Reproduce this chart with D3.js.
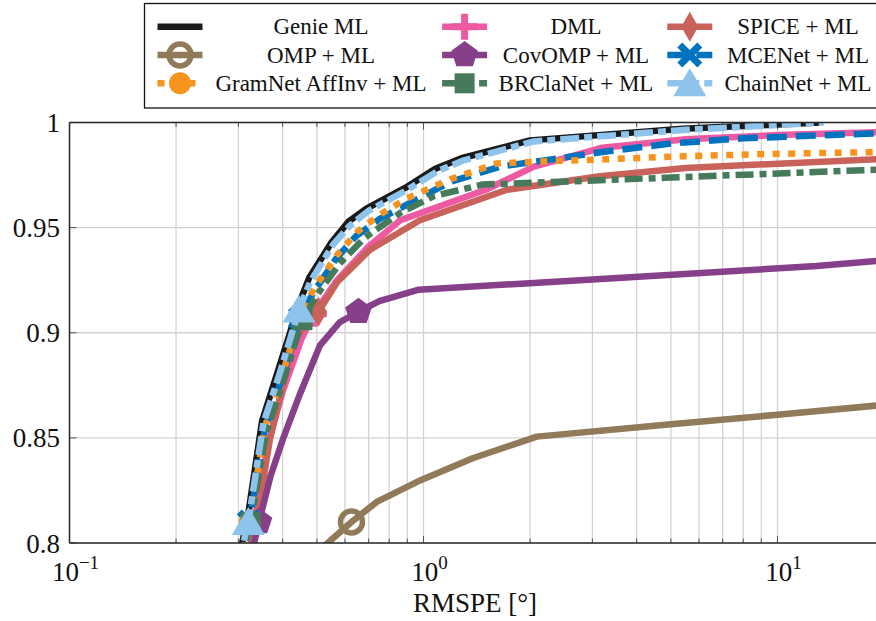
<!DOCTYPE html>
<html>
<head>
<meta charset="utf-8">
<script src="https://cdn.jsdelivr.net/npm/d3@7"></script>
<style>
  body { margin: 0; background: #fff; }
  svg { display: block; }
  svg text { font-family: "Liberation Serif", "Tinos", "Times New Roman", "DejaVu Serif", serif; fill: #111; }
</style>
</head>
<body>
<div id="chart"></div>
<script>
// legend order (row by row) = drawing order
const seriesNames = ["Genie ML", "DML", "SPICE + ML", "OMP + ML", "CovOMP + ML", "MCENet + ML",
                     "GramNet AffInv + ML", "BRClaNet + ML", "ChainNet + ML"];

// [RMSPE, value] pairs
const genieML = [[0.298,0.790],[0.318,0.811],[0.350,0.858],[0.390,0.883],[0.418,0.899],[0.443,0.913],
  [0.475,0.926],[0.550,0.943],[0.615,0.953],[0.690,0.959],[0.890,0.969],[1.080,0.978],[1.280,0.983],
  [2.000,0.9915],[5.400,0.997],[13.2,1.000]];
const dml = [[0.316,0.790],[0.334,0.810],[0.362,0.846],[0.400,0.872],[0.452,0.897],[0.490,0.909],
  [0.570,0.925],[0.700,0.941],[0.860,0.9535],[1.500,0.968],[2.050,0.979],[3.200,0.988],[5.500,0.992],
  [10,0.994],[20,0.9955]];
const spiceML = [[0.324,0.790],[0.331,0.801],[0.338,0.811],[0.368,0.849],[0.430,0.897],[0.505,0.910],
  [0.570,0.924],[0.706,0.9395],[0.977,0.9535],[1.720,0.968],[3.150,0.9744],[5.500,0.9784],[20,0.9827]];
const ompML = [[0.520,0.798],[0.626,0.810],[0.740,0.8197],[0.985,0.830],[1.377,0.8403],[2.090,0.8506],
  [5.0,0.8565],[10,0.861],[20,0.8657]];
const covOmpML = [[0.322,0.790],[0.343,0.810],[0.370,0.832],[0.400,0.849],[0.448,0.871],[0.510,0.894],
  [0.580,0.905],[0.655,0.910],[0.750,0.915],[0.970,0.9205],[2.050,0.9237],[12.9,0.9317],[20,0.9345]];
const mceNetML = [[0.302,0.790],[0.322,0.810],[0.356,0.854],[0.397,0.878],[0.425,0.894],[0.449,0.907],
  [0.488,0.919],[0.565,0.935],[0.645,0.946],[0.750,0.954],[0.900,0.961],[1.200,0.972],[1.650,0.979],
  [2.200,0.982],[3.200,0.986],[5.000,0.990],[8.000,0.9925],[20,0.995]];
const gramNetML = [[0.303,0.790],[0.323,0.810],[0.356,0.855],[0.397,0.879],[0.425,0.895],[0.450,0.908],
  [0.490,0.921],[0.570,0.937],[0.650,0.948],[0.750,0.956],[0.900,0.964],[1.190,0.973],[1.610,0.9805],
  [2.180,0.9815],[3.300,0.9825],[5.500,0.984],[9.300,0.985],[20,0.986]];
const brClaNetML = [[0.305,0.790],[0.325,0.810],[0.360,0.853],[0.402,0.877],[0.430,0.893],[0.455,0.906],
  [0.500,0.918],[0.580,0.933],[0.680,0.945],[0.860,0.957],[1.070,0.965],[1.470,0.9705],[1.800,0.971],
  [4.800,0.9737],[20,0.9777]];
const chainNetML = [[0.300,0.790],[0.320,0.810],[0.353,0.857],[0.393,0.881],[0.420,0.897],[0.445,0.911],
  [0.478,0.924],[0.556,0.942],[0.620,0.951],[0.700,0.958],[0.900,0.968],[1.100,0.977],[1.300,0.982],
  [2.050,0.991],[5.500,0.9965],[13.5,1.000]];

// which points carry a marker
const markIdx = [[], [1,5], [2,5], [1], [1,7], [1,5], [1,5], [1,5], [1,5]];

const xTicks = [0.1, 1, 10];
const xTickExp = ["\u22121", "0", "1"];
const yTicks = [0.8, 0.85, 0.9, 0.95, 1];
const yTickLabels = ["0.8", "0.85", "0.9", "0.95", "1"];

const allData = [genieML, dml, spiceML, ompML, covOmpML, mceNetML, gramNetML, brClaNetML, chainNetML];
const colors = ["#1a1a1a", "#ee5aa2", "#c8625a", "#917a59", "#86408a", "#0073bf", "#f7941e", "#477a5a", "#8ec4eb"];
const dashes = [null, null, null, null, null, "20,9", "7,8.5", "18,6,7,6", "19,5,8,5"];
const shapes = [null, "plus", "diamond", "ring", "pentagon", "cross", "dot", "square", "triangle"];

const W = 876, H = 621;
const pL = 69.5, pT = 122.5, pB = 543;
const pR = pL + 354 * Math.log10(200);   // plot runs past the right edge of the picture
const lw = 6.5;

const svg = d3.select("#chart").append("svg").attr("width", W).attr("height", H);

const x = d3.scaleLog().domain([0.1, 20]).range([pL, pR]);
const y = d3.scaleLinear().domain([0.8, 1]).range([pB, pT]);

svg.append("defs").append("clipPath").attr("id", "plotclip")
  .append("rect").attr("x", pL).attr("y", pT).attr("width", pR - pL).attr("height", pB - pT);

// grid
const grid = svg.append("g").attr("stroke", "#d3d3d3").attr("stroke-width", 1.3);
x.ticks().forEach(t => {
  grid.append("line").attr("x1", x(t)).attr("x2", x(t)).attr("y1", pT).attr("y2", pB);
});
yTicks.forEach(t => {
  grid.append("line").attr("x1", pL).attr("x2", pR).attr("y1", y(t)).attr("y2", y(t));
});

// tick marks inside the box
const tk = svg.append("g").attr("stroke", "#555").attr("stroke-width", 1);
x.ticks().forEach(t => {
  const major = xTicks.includes(t);
  const len = major ? 7 : 4.5;
  tk.append("line").attr("x1", x(t)).attr("x2", x(t)).attr("y1", pB).attr("y2", pB - len);
  tk.append("line").attr("x1", x(t)).attr("x2", x(t)).attr("y1", pT).attr("y2", pT + len);
});
yTicks.forEach(t => {
  tk.append("line").attr("x1", pL).attr("x2", pL + 7).attr("y1", y(t)).attr("y2", y(t));
});

function marker(g, shape, cx, cy, color) {
  const m = g.append("g").attr("transform", `translate(${cx},${cy})`);
  if (shape === "plus") {
    m.append("path").attr("d", "M-13,0H13M0,-13V13").attr("stroke", color).attr("stroke-width", 7).attr("fill", "none");
  } else if (shape === "cross") {
    m.append("path").attr("d", "M-10,-10L10,10M-10,10L10,-10").attr("stroke", color).attr("stroke-width", 7).attr("fill", "none");
  } else if (shape === "diamond") {
    m.append("path").attr("d", "M0,-15L8.5,0L0,15L-8.5,0Z").attr("fill", color);
  } else if (shape === "ring") {
    m.append("circle").attr("r", 11).attr("fill", "none").attr("stroke", color).attr("stroke-width", 5.5);
  } else if (shape === "pentagon") {
    const pts = d3.range(5).map(k => {
      const a = -Math.PI / 2 + k * 2 * Math.PI / 5;
      return [14 * Math.cos(a), 14 * Math.sin(a)];
    });
    m.append("path").attr("d", "M" + pts.join("L") + "Z").attr("fill", color);
  } else if (shape === "dot") {
    m.append("circle").attr("r", 11).attr("fill", color);
  } else if (shape === "square") {
    m.append("rect").attr("x", -10).attr("y", -10).attr("width", 20).attr("height", 20).attr("fill", color);
  } else if (shape === "triangle") {
    m.append("path").attr("d", "M0,-15L16.5,13L-16.5,13Z").attr("fill", color);
  }
}

const line = d3.line().x(d => x(d[0])).y(d => y(d[1]));
const plot = svg.append("g");

allData.forEach((data, i) => {
  plot.append("path")
    .datum(data)
    .attr("d", line)
    .attr("clip-path", "url(#plotclip)")
    .attr("fill", "none")
    .attr("stroke", colors[i])
    .attr("stroke-width", lw)
    .attr("stroke-linejoin", "round")
    .attr("stroke-dasharray", dashes[i]);
  markIdx[i].forEach(k => marker(plot, shapes[i], x(data[k][0]), y(data[k][1]), colors[i]));
});

// axis box (right side falls outside the picture)
const axc = "#2a2a2a";
svg.append("line").attr("x1", pL).attr("x2", pL).attr("y1", pT).attr("y2", pB).attr("stroke", axc).attr("stroke-width", 1.5);
svg.append("line").attr("x1", pL).attr("x2", pR).attr("y1", pB).attr("y2", pB).attr("stroke", axc).attr("stroke-width", 1.5);
svg.append("line").attr("x1", pL).attr("x2", pR).attr("y1", pT).attr("y2", pT).attr("stroke", axc).attr("stroke-width", 1.5);

// tick labels
yTicks.forEach((t, i) => {
  svg.append("text").attr("x", 60).attr("y", y(t) + 9.5)
    .attr("text-anchor", "end").attr("font-size", 27)
    .text(yTickLabels[i]);
});
xTicks.forEach((t, i) => {
  const tx = svg.append("text").attr("x", x(t) + 6).attr("y", 581)
    .attr("text-anchor", "middle").attr("font-size", 27);
  tx.append("tspan").text("10");
  tx.append("tspan").attr("dy", -12).attr("font-size", 19).text(xTickExp[i]);
});
svg.append("text").attr("x", 475).attr("y", 612).attr("text-anchor", "middle")
  .attr("font-size", 27).text("RMSPE [\u00b0]");

// legend
const legRows = [26.7, 55, 83.3];
const legMark = [180, 464.6, 689.8];
const legText = [321, 576, 798];
const leg = svg.append("g");
leg.append("rect").attr("x", 144.5).attr("y", 3.5).attr("width", 735).attr("height", 104.5)
  .attr("fill", "#fff").attr("stroke", "#111").attr("stroke-width", 1.3);
seriesNames.forEach((name, i) => {
  const r = Math.floor(i / 3), c = i % 3;
  const cy = legRows[r], cx = legMark[c];
  leg.append("line").attr("x1", cx - 22.5).attr("x2", cx + 22.5).attr("y1", cy).attr("y2", cy)
    .attr("stroke", colors[i]).attr("stroke-width", lw).attr("stroke-dasharray", dashes[i]);
  if (shapes[i]) marker(leg, shapes[i], cx, cy, colors[i]);
  leg.append("text").attr("x", legText[c]).attr("y", cy + 7.5).attr("text-anchor", "middle")
    .attr("font-size", 23).text(name);
});
</script>
</body>
</html>
